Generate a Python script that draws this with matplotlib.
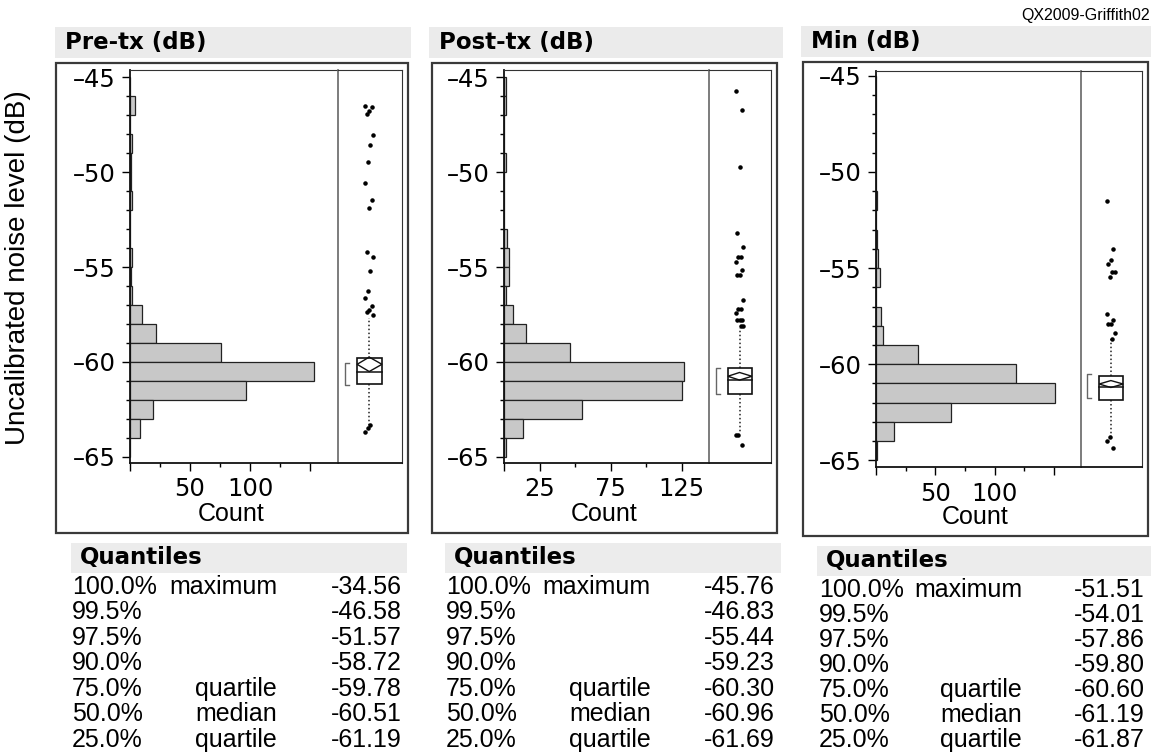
"""Noise level histograms with outlier box plots and quantile tables."""

import numpy as np
import matplotlib
matplotlib.use("Agg")
from matplotlib import pyplot as plt
from matplotlib.patches import Rectangle, Polygon
from matplotlib.ticker import FixedLocator, FixedFormatter, FuncFormatter

W, H = 1151, 754

# Data ========================================================================

# counts per 1 dB bin, top bin first: -45..-46, -46..-47, ..., -64..-65
pre_counts = [0, 4, 0, 2, 1, 1, 2, 0, 0, 2, 1, 2, 10, 22, 76, 153, 97, 19, 8, 0]
post_counts = [1, 1, 0, 0, 1, 0, 0, 0, 2, 3, 3, 1, 6, 15, 46, 127, 125, 55, 13, 1]
min_counts = [0, 0, 0, 0, 0, 0, 1, 0, 1, 2, 3, 0, 4, 6, 35, 118, 151, 63, 15, 1]

# points drawn beyond the whiskers
pre_outliers = [-46.51, -46.55, -46.76, -46.94, -48.04, -48.57, -49.45, -50.55,
                -51.47, -51.87, -54.23, -54.49, -55.19, -56.25, -56.65, -57.06,
                -57.27, -57.36, -57.53, -63.33, -63.50, -63.68]
post_outliers = [-45.74, -46.72, -49.71, -53.22, -53.93, -54.47, -54.47, -54.74,
                 -55.18, -55.40, -55.40, -56.75, -57.23, -57.23, -57.41, -57.77,
                 -57.77, -57.77, -58.12, -58.12, -63.83, -63.88, -64.36]
min_outliers = [-51.53, -53.99, -54.58, -54.81, -55.20, -55.20, -55.47, -57.39,
                -57.68, -57.89, -57.89, -58.39, -58.70, -63.80, -63.98, -64.37]

# mean diamond (mean, half width of 95% CI) and shortest half
pre_mean, pre_ci, pre_short = -60.13, 0.38, (-60.04, -61.22)
post_mean, post_ci, post_short = -60.76, 0.20, (-60.30, -61.68)
min_mean, min_ci, min_short = -61.03, 0.18, (-60.49, -61.74)

quantile_labels = ["100.0%", "99.5%", "97.5%", "90.0%", "75.0%", "50.0%", "25.0%"]
quantile_names = ["maximum", "", "", "", "quartile", "median", "quartile"]
pre_quantiles = [-34.56, -46.58, -51.57, -58.72, -59.78, -60.51, -61.19]
post_quantiles = [-45.76, -46.83, -55.44, -59.23, -60.30, -60.96, -61.69]
min_quantiles = [-51.51, -54.01, -57.86, -59.80, -60.60, -61.19, -61.87]

titles = ["Pre-tx (dB)", "Post-tx (dB)", "Min (dB)"]

# Layout (pixels, y measured from the top) ====================================

layouts = [
    dict(title=(55, 26.7, 411, 58.3), frame=(56, 62.7, 408, 533),
         hist=(130, 70, 338, 462.7), box=(338, 70, 401.7, 462.7),
         ylim=(-65.316, -44.615), xmax=173.3,
         xmajor=[0, 50, 100, 150], xminor=[25, 75, 125], xlabels=["", "50", "100", ""],
         count_y=514, head=(71, 542.7, 407, 573), row0=586.7, dy=25.55,
         col1=72, col2=277, col3=402),
    dict(title=(429.3, 26.7, 782.7, 58.3), frame=(431.7, 62.7, 777, 533),
         hist=(504.3, 70, 709.3, 462.7), box=(709.3, 70, 771, 462.7),
         ylim=(-65.316, -44.615), xmax=144.5,
         xmajor=[0, 25, 75, 125], xminor=[50, 100], xlabels=["", "25", "75", "125"],
         count_y=514, head=(445, 542.7, 781, 573), row0=586.7, dy=25.55,
         col1=446, col2=650.7, col3=775),
    dict(title=(801.4, 25.8, 1151, 56.8), frame=(802.5, 62, 1148.3, 535.5),
         hist=(876, 71.3, 1080.7, 467.3), box=(1080.7, 71.3, 1142.3, 467.3),
         ylim=(-65.36, -44.77), xmax=172.6,
         xmajor=[0, 50, 100, 150], xminor=[25, 75, 125], xlabels=["", "50", "100", ""],
         count_y=516.5, head=(817, 546, 1151, 576), row0=590, dy=25.0,
         col1=819, col2=1022, col3=1145),
]

TICK_FONT = "DejaVu Sans"
BODY_FONT = "Liberation Sans"


def fig_rect(box):
    x0, y0, x1, y1 = box
    return [x0 / W, 1 - y1 / H, (x1 - x0) / W, (y1 - y0) / H]


def fig_patch(fig, box, **kw):
    x0, y0, x1, y1 = box
    fig.add_artist(Rectangle((x0 / W, 1 - y1 / H), (x1 - x0) / W, (y1 - y0) / H,
                             transform=fig.transFigure, **kw))


def dash_label(v, pos):
    # JMP style long dash in front of negative numbers
    return "%d" % v if v >= 0 else "\u2013%d" % abs(v)


def draw_panel(fig, lay, title, counts, outliers, mean, ci, short, quantiles):
    # title bar and frame
    fig_patch(fig, lay["title"], facecolor="#ebebeb", edgecolor="none")
    fig.text((lay["title"][0] + 10) / W, 1 - (lay["title"][1] + lay["title"][3]) / 2 / H,
             title, fontsize=16.5, fontweight="bold", family=TICK_FONT,
             ha="left", va="center")
    fig_patch(fig, lay["frame"], facecolor="none", edgecolor="#3a3a3a", lw=1.6)

    # histogram
    ax = fig.add_axes(fig_rect(lay["hist"]))
    bin_top = -45 - np.arange(len(counts))
    ax.barh(bin_top - 0.5, counts, height=1.0, color="#c8c8c8",
            edgecolor="#222222", linewidth=0.9)
    ax.set_ylim(*lay["ylim"])
    ax.set_xlim(0, lay["xmax"])
    ax.yaxis.set_major_locator(FixedLocator([-45, -50, -55, -60, -65]))
    ax.yaxis.set_major_formatter(FuncFormatter(dash_label))
    ax.yaxis.set_minor_locator(FixedLocator(np.arange(-65, -44, 1)))
    ax.xaxis.set_major_locator(FixedLocator(lay["xmajor"]))
    ax.xaxis.set_major_formatter(FixedFormatter(lay["xlabels"]))
    ax.xaxis.set_minor_locator(FixedLocator(lay["xminor"]))
    ax.tick_params(which="major", length=5.5, width=1, pad=5, labelsize=17.5)
    ax.tick_params(which="minor", length=3, width=1)
    for lab in ax.get_xticklabels() + ax.get_yticklabels():
        lab.set_family(TICK_FONT)
    for side in ["left", "bottom"]:
        ax.spines[side].set_linewidth(1.3)
        ax.spines[side].set_color("#111111")
    ax.spines["top"].set_color("#333333")
    ax.spines["right"].set_visible(False)
    hx0, _, hx1, _ = lay["hist"]
    fig.text(((hx0 + hx1) / 2 - 3) / W, 1 - lay["count_y"] / H, "Count",
             fontsize=18, family=BODY_FONT, ha="center", va="center")

    # outlier box plot
    bx = fig.add_axes(fig_rect(lay["box"]))
    bx.set_xlim(0, 1)
    bx.set_ylim(*lay["ylim"])
    bx.set_xticks([])
    bx.set_yticks([])
    bx.spines["left"].set_color("#666666")
    bx.spines["left"].set_linewidth(1.2)
    bx.spines["top"].set_color("#333333")
    bx.spines["right"].set_color("#333333")
    bx.spines["bottom"].set_color("#111111")
    bx.spines["bottom"].set_linewidth(1.3)

    q3, med, q1 = quantiles[4], quantiles[5], quantiles[6]
    iqr = q3 - q1
    upper = q3 + 1.5 * iqr
    lower = q1 - 1.5 * iqr
    xc, b0, b1 = 0.49, 0.30, 0.69
    dots = dict(ls=(0, (1, 1.6)), color="#222222", lw=1.1)
    bx.plot([xc, xc], [q3, upper], **dots)
    bx.plot([xc, xc], [q1, lower], **dots)
    bx.add_patch(Rectangle((b0, q1), b1 - b0, iqr, facecolor="white",
                           edgecolor="#111111", lw=1.2, zorder=3))
    bx.plot([b0, b1], [med, med], color="#111111", lw=1.1, zorder=4)
    bx.add_patch(Polygon([(b0, mean), (xc, mean + ci), (b1, mean), (xc, mean - ci)],
                         closed=True, fill=False, edgecolor="#111111", lw=1.0, zorder=4))
    bk = 0.11
    bx.plot([bk + 0.06, bk, bk, bk + 0.06], [short[0], short[0], short[1], short[1]],
            color="#666666", lw=1.0)
    jitter = [((i * 5) % 7 - 3) * 0.02 for i in range(len(outliers))]
    bx.scatter(xc + np.array(jitter), outliers, s=5, color="black", zorder=5)

    # quantile table
    fig_patch(fig, lay["head"], facecolor="#ececec", edgecolor="none")
    fig.text((lay["head"][0] + 9) / W, 1 - (lay["head"][1] + lay["head"][3]) / 2 / H,
             "Quantiles", fontsize=16.5, fontweight="bold", family=TICK_FONT,
             ha="left", va="center")
    for i, (lab, name, val) in enumerate(zip(quantile_labels, quantile_names, quantiles)):
        y = 1 - (lay["row0"] + i * lay["dy"]) / H
        fig.text(lay["col1"] / W, y, lab, fontsize=18, family=BODY_FONT,
                 ha="left", va="center")
        fig.text(lay["col2"] / W, y, name, fontsize=18, family=BODY_FONT,
                 ha="right", va="center")
        fig.text(lay["col3"] / W, y, "%.2f" % val, fontsize=18, family=BODY_FONT,
                 ha="right", va="center")


fig = plt.figure(figsize=(W / 100, H / 100), dpi=100)

all_counts = [pre_counts, post_counts, min_counts]
all_outliers = [pre_outliers, post_outliers, min_outliers]
all_means = [pre_mean, post_mean, min_mean]
all_ci = [pre_ci, post_ci, min_ci]
all_short = [pre_short, post_short, min_short]
all_quantiles = [pre_quantiles, post_quantiles, min_quantiles]

for k in range(3):
    draw_panel(fig, layouts[k], titles[k], all_counts[k], all_outliers[k],
               all_means[k], all_ci[k], all_short[k], all_quantiles[k])

fig.text(18 / W, 1 - 268 / H, "Uncalibrated noise level (dB)", rotation=90,
         fontsize=20, family=BODY_FONT, ha="center", va="center")
fig.text(1150 / W, 1 - 15.5 / H, "QX2009-Griffith02", fontsize=11.5,
         family=BODY_FONT, ha="right", va="center")

fig.savefig("out.png", dpi=100)
